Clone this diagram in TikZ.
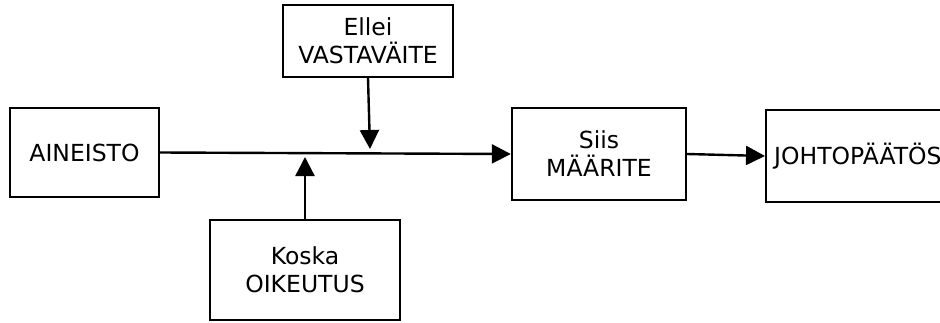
\documentclass[tikz,border=0pt]{standalone}
\usepackage{fontspec}
\setmainfont{DejaVu Sans}
\usetikzlibrary{arrows.meta}
\begin{document}
\begin{tikzpicture}[x=1pt,y=-1pt,
  box/.style={draw=black, line width=2.4pt, rectangle, align=center, inner sep=0pt,
    font=\fontsize{23.5}{28}\selectfont},
  arr/.style={line width=2.4pt, -{Triangle[length=19pt,width=19pt]}},
  conn/.style={line width=2.4pt}]
\useasboundingbox[fill=white] (0,0) rectangle (940,322);
\node[box, minimum width=149pt, minimum height=89pt] (ain) at (84.5,152.5) {AINEISTO};
\node[box, minimum width=170pt, minimum height=72pt] (vast) at (368,41) {Ellei\\VASTAVÄITE};
\node[box, minimum width=190pt, minimum height=100pt] (kos) at (305,270) {Koska\\OIKEUTUS};
\node[box, minimum width=174pt, minimum height=92pt] (siis) at (599,154) {Siis\\MÄÄRITE};
\node[box, anchor=west, minimum height=92pt, text width=224pt, align=left, inner xsep=8pt] (joht) at (765,156) {JOHTOPÄÄTÖS};
\coordinate (vtip) at (370,149);
\coordinate (ktip) at (305,157);
\draw[arr] (ain.east) -- (siis.west);
\draw[arr] (vast.south) -- (vtip);
\draw[arr] (kos.north) -- (ktip);
\draw[arr] (siis.east) -- (joht.west);
\end{tikzpicture}
\end{document}
